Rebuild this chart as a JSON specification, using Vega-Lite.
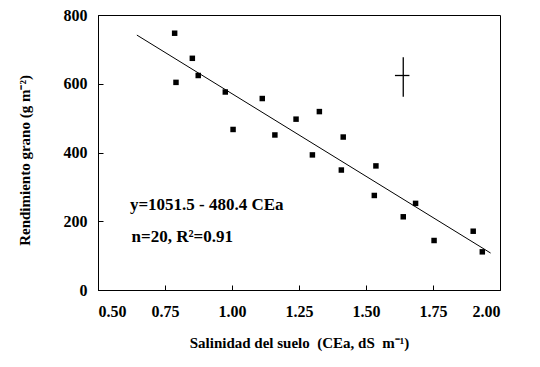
{
  "$schema": "https://vega.github.io/schema/vega-lite/v6.json",
  "autosize": {"type": "none"},
  "width": 402,
  "height": 275,
  "padding": {"left": 98, "top": 15, "right": 40, "bottom": 77},
  "background": "white",
  "config": {
    "view": {"stroke": "black", "strokeWidth": 1},
    "font": "Liberation Serif",
    "axis": {
      "grid": false,
      "domainColor": "black",
      "tickColor": "black",
      "labelColor": "black",
      "titleColor": "black",
      "labelFont": "Liberation Serif",
      "titleFont": "Liberation Serif",
      "labelFontWeight": "bold",
      "titleFontWeight": "bold",
      "labelFontSize": 16,
      "titleFontSize": 15,
      "tickSize": -5
    }
  },
  "datasets": {
    "pts": [
      {"cea": 0.786, "yield": 747},
      {"cea": 0.791, "yield": 604},
      {"cea": 0.852, "yield": 674},
      {"cea": 0.874, "yield": 624},
      {"cea": 0.975, "yield": 576},
      {"cea": 1.004, "yield": 467},
      {"cea": 1.113, "yield": 557},
      {"cea": 1.160, "yield": 451},
      {"cea": 1.239, "yield": 497},
      {"cea": 1.326, "yield": 519},
      {"cea": 1.415, "yield": 445},
      {"cea": 1.300, "yield": 393},
      {"cea": 1.408, "yield": 349},
      {"cea": 1.537, "yield": 361},
      {"cea": 1.531, "yield": 275},
      {"cea": 1.639, "yield": 213},
      {"cea": 1.685, "yield": 252},
      {"cea": 1.754, "yield": 144},
      {"cea": 1.900, "yield": 171},
      {"cea": 1.934, "yield": 111}
    ],
    "fit": [
      {"cea": 0.645, "yield": 741.6},
      {"cea": 1.965, "yield": 107.5}
    ],
    "err": [
      {"x": 1.639, "x2": 1.639, "y": 562, "y2": 677},
      {"x": 1.608, "x2": 1.662, "y": 624, "y2": 624}
    ],
    "notes": [
      {"x": 0.619, "y": 247, "label": "y=1051.5 - 480.4 CEa"},
      {"x": 0.625, "y": 153, "label": "n=20, R²=0.91"}
    ]
  },
  "layer": [
    {
      "data": {"name": "fit"},
      "mark": {"type": "line", "color": "black", "strokeWidth": 1},
      "encoding": {
        "x": {
          "field": "cea", "type": "quantitative",
          "scale": {"domain": [0.5, 2.0], "nice": false, "zero": false},
          "axis": {
            "values": [0.5, 0.75, 1.0, 1.25, 1.5, 1.75, 2.0],
            "format": ".2f",
            "labelPadding": 18,
            "title": "Salinidad del suelo\u00a0\u00a0(CEa, dS\u00a0\u00a0m⁻¹)",
            "titlePadding": 16
          }
        },
        "y": {
          "field": "yield", "type": "quantitative",
          "scale": {"domain": [0, 800], "nice": false},
          "axis": {
            "values": [0, 100, 200, 300, 400, 500, 600, 700, 800],
            "labelExpr": "datum.value % 200 == 0 ? datum.label : ''",
            "labelPadding": 16,
            "title": "Rendimiento grano (g m⁻²)",
            "titleX": -66,
            "titleY": 145
          }
        }
      }
    },
    {
      "data": {"name": "pts"},
      "mark": {"type": "square", "color": "black", "filled": true, "opacity": 1, "size": 30},
      "encoding": {
        "x": {"field": "cea", "type": "quantitative"},
        "y": {"field": "yield", "type": "quantitative"}
      }
    },
    {
      "data": {"name": "err"},
      "mark": {"type": "rule", "color": "black", "strokeWidth": 1.3},
      "encoding": {
        "x": {"field": "x", "type": "quantitative"},
        "x2": {"field": "x2"},
        "y": {"field": "y", "type": "quantitative"},
        "y2": {"field": "y2"}
      }
    },
    {
      "data": {"name": "notes"},
      "mark": {"type": "text", "align": "left", "baseline": "middle", "font": "Liberation Serif", "fontWeight": "bold", "fontSize": 17, "color": "black"},
      "encoding": {
        "x": {"field": "x", "type": "quantitative"},
        "y": {"field": "y", "type": "quantitative"},
        "text": {"field": "label"}
      }
    }
  ]
}
